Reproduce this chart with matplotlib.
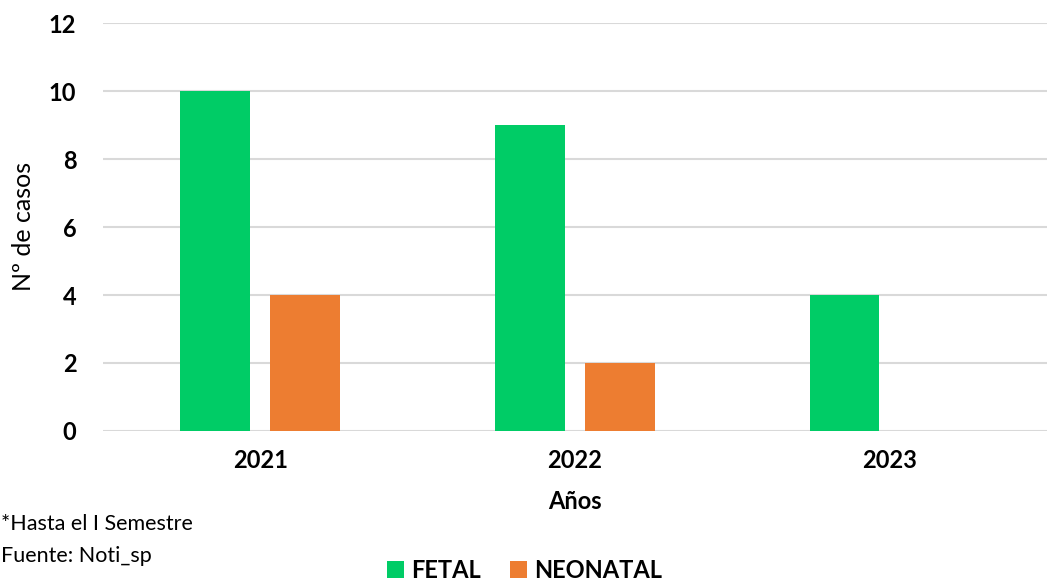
import numpy as np
import matplotlib.pyplot as plt
import matplotlib

matplotlib.rcParams['font.family'] = ['Lato', 'DejaVu Sans']

# data
years = ['2021', '2022', '2023']
fetal = [10, 9, 4]
neonatal = [4, 2, 0]
y_ticks = [0, 2, 4, 6, 8, 10, 12]

fig = plt.figure(figsize=(10.49, 5.80), dpi=100)
ax = fig.add_axes([0.098, 0.257, 0.900, 0.703])

x = np.arange(len(years))
w = 0.222
off = 0.143
ax.bar(x - off, fetal, width=w, color='#00cc66', label='FETAL', zorder=3)
ax.bar(x + off, neonatal, width=w, color='#ed7d31', label='NEONATAL', zorder=3)

ax.set_xlim(-0.5, 2.5)
ax.set_ylim(0, 12)
ax.set_yticks(y_ticks)
ax.set_xticks(x)
ax.set_xticklabels(years, fontsize=17, fontweight='bold')
ax.set_yticklabels([str(v) for v in y_ticks], fontsize=17, fontweight='bold')
ax.tick_params(length=0)
ax.tick_params(axis='y', pad=19)
ax.tick_params(axis='x', pad=13)
ax.yaxis.grid(True, color='#d9d9d9', linewidth=1.5, zorder=0)
for s in ax.spines.values():
    s.set_visible(False)

ax.set_xlabel('Años', fontsize=17, fontweight='bold', labelpad=13)
fig.text(0.022, 0.61, 'Nº de casos', rotation=90, fontsize=18, ha='center', va='center')

fig.text(0.001, 0.097, '*Hasta el I Semestre', fontsize=15.5, va='center')
fig.text(0.001, 0.041, 'Fuente: Noti_sp', fontsize=15.5, va='center')

leg = fig.legend(loc='center', bbox_to_anchor=(0.5, 0.017), ncol=2, frameon=False,
                 prop={'size': 17, 'weight': 'bold'}, handlelength=0.75, handleheight=0.75,
                 columnspacing=1.2, handletextpad=0.3)

plt.savefig('out.png', dpi=100)
